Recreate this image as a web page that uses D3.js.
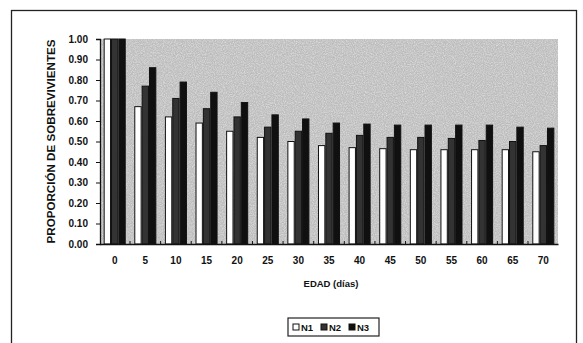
<!DOCTYPE html>
<html>
<head>
<meta charset="utf-8">
<script src="https://cdn.jsdelivr.net/npm/d3@7"></script>
<style>
  body { margin: 0; background: #fff; }
  text { font-family: "Liberation Sans", Arial, sans-serif; font-weight: bold; fill: #111; }
</style>
</head>
<body>
<div id="chart"></div>
<script>
// datos
const edades = ["0", "5", "10", "15", "20", "25", "30", "35", "40", "45", "50", "55", "60", "65", "70"];
const n1 = [1.00, 0.67, 0.62, 0.59, 0.55, 0.52, 0.50, 0.48, 0.47, 0.465, 0.46, 0.46, 0.46, 0.46, 0.45];
const n2 = [1.00, 0.77, 0.71, 0.66, 0.62, 0.57, 0.55, 0.54, 0.53, 0.52, 0.52, 0.515, 0.505, 0.50, 0.48];
const n3 = [1.00, 0.86, 0.79, 0.74, 0.69, 0.63, 0.61, 0.59, 0.585, 0.58, 0.58, 0.58, 0.58, 0.57, 0.565];
const series = ["N1", "N2", "N3"];
const yTicks = [0, 0.1, 0.2, 0.3, 0.4, 0.5, 0.6, 0.7, 0.8, 0.9, 1.0];

const W = 583, H = 343;
const colores = { N1: "#ffffff", N2: "#333333", N3: "#101010" };

const svg = d3.select("#chart").append("svg")
    .attr("width", W).attr("height", H);

// textura moteada para el fondo del área de trazado
const defs = svg.append("defs");
const f = defs.append("filter").attr("id", "ruido")
    .attr("x", 0).attr("y", 0).attr("width", 1).attr("height", 1);
f.append("feTurbulence").attr("type", "fractalNoise")
    .attr("baseFrequency", 0.9).attr("numOctaves", 2).attr("seed", 3).attr("result", "t");
f.append("feColorMatrix").attr("in", "t").attr("type", "matrix")
    .attr("values", "0 0 0 0 1  0 0 0 0 1  0 0 0 0 1  0 0 0 -1.6 1.05").attr("result", "m");
f.append("feComposite").attr("in", "m").attr("in2", "SourceGraphic").attr("operator", "in");

// marco exterior
svg.append("rect")
    .attr("x", 11.5).attr("y", 10.5).attr("width", 565).attr("height", 340)
    .attr("fill", "#fff").attr("stroke", "#222").attr("stroke-width", 1.3);

const x0 = 100, x1 = 558, yTop = 39, yBot = 244;

const x = d3.scaleBand().domain(edades).range([x0, x1])
    .paddingInner(0.28).paddingOuter(0.12);
const xs = d3.scaleBand().domain(series).range([0, x.bandwidth()]);
const y = d3.scaleLinear().domain([0, 1]).range([yBot, yTop]);

// fondo gris
svg.append("rect")
    .attr("x", x0).attr("y", yTop).attr("width", x1 - x0).attr("height", yBot - yTop)
    .attr("fill", "#bdbdbd");
svg.append("rect")
    .attr("x", x0).attr("y", yTop).attr("width", x1 - x0).attr("height", yBot - yTop)
    .attr("fill", "#bdbdbd").attr("filter", "url(#ruido)").attr("opacity", 0.55);

// barras
const datos = edades.map((e, i) => ({ edad: e, N1: n1[i], N2: n2[i], N3: n3[i] }));
const grupo = svg.append("g").selectAll("g")
    .data(datos).join("g")
    .attr("transform", d => `translate(${x(d.edad)},0)`);

grupo.selectAll("rect")
    .data(d => series.map(s => ({ s, v: d[s] })))
    .join("rect")
    .attr("x", d => xs(d.s) + 0.5)
    .attr("y", d => y(d.v))
    .attr("width", xs.bandwidth() - 1)
    .attr("height", d => yBot - y(d.v))
    .attr("fill", d => colores[d.s])
    .attr("stroke", "#111")
    .attr("stroke-width", 1);

// eje Y
const ejeY = svg.append("g")
    .attr("transform", `translate(${x0},0)`)
    .call(d3.axisLeft(y).tickValues(yTicks).tickFormat(d3.format(".2f")).tickSize(4).tickPadding(8));
ejeY.select(".domain").attr("stroke", "#111").attr("stroke-width", 1.3);
ejeY.selectAll(".tick line").attr("stroke", "#111");
ejeY.selectAll("text").style("font-size", "10px").attr("fill", "#111");

// eje X
const ejeX = svg.append("g")
    .attr("transform", `translate(0,${yBot})`)
    .call(d3.axisBottom(x).tickSize(0).tickPadding(13));
ejeX.select(".domain").attr("stroke", "#111").attr("stroke-width", 1.3);
ejeX.selectAll("text").style("font-size", "10px").attr("fill", "#111");

// marcas entre categorías
svg.append("g").selectAll("line")
    .data(edades.slice(1)).join("line")
    .attr("x1", d => x(d) - x.step() * x.paddingInner() / 2)
    .attr("x2", d => x(d) - x.step() * x.paddingInner() / 2)
    .attr("y1", yBot).attr("y2", yBot - 3)
    .attr("stroke", "#111");

// títulos de ejes
svg.append("text")
    .attr("transform", `translate(55,${(yTop + yBot) / 2}) rotate(-90)`)
    .attr("text-anchor", "middle")
    .attr("textLength", 204).attr("lengthAdjust", "spacingAndGlyphs")
    .style("font-size", "10.5px")
    .text("PROPORCIÓN DE SOBREVIVIENTES");

svg.append("text")
    .attr("x", 331).attr("y", 287)
    .attr("text-anchor", "middle")
    .style("font-size", "9.5px")
    .text("EDAD (días)");

// leyenda
const leg = svg.append("g").attr("transform", "translate(288,318)");
leg.append("rect")
    .attr("width", 91).attr("height", 18)
    .attr("fill", "#fff").attr("stroke", "#222").attr("stroke-width", 1.2);
const item = leg.selectAll("g.item")
    .data(series).join("g").attr("class", "item")
    .attr("transform", (d, i) => `translate(${5 + i * 28},0)`);
item.append("rect")
    .attr("x", 0).attr("y", 6).attr("width", 6).attr("height", 6)
    .attr("fill", d => colores[d]).attr("stroke", "#111");
item.append("text")
    .attr("x", 8).attr("y", 12.5)
    .style("font-size", "9.5px")
    .text(d => d);
</script>
</body>
</html>
